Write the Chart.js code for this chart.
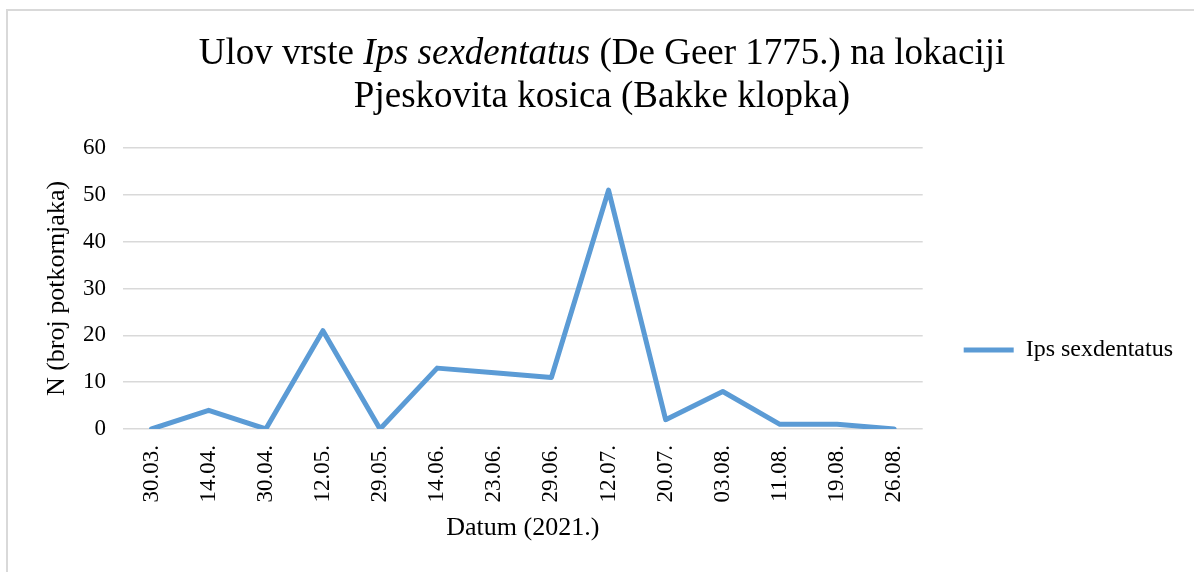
<!DOCTYPE html>
<html>
<head>
<meta charset="utf-8">
<script src="https://cdn.jsdelivr.net/npm/chart.js@4.4.1/dist/chart.umd.min.js"></script>
<style>
  body { margin: 0; background: #fff; overflow: hidden; }
  #wrap { position: relative; width: 1194px; height: 572px; }
  #frame { position: absolute; left: 6px; top: 9px; width: 1400px; height: 800px; border: 2px solid #d9d9d9; }
  canvas { position: absolute; left: 0; top: 0; }
</style>
</head>
<body>
<div id="wrap">
  <div id="frame"></div>
  <canvas id="chart" width="1194" height="572"></canvas>
</div>
<script>
const labels = ["30.03.", "14.04.", "30.04.", "12.05.", "29.05.", "14.06.", "23.06.",
  "29.06.", "12.07.", "20.07.", "03.08.", "11.08.", "19.08.", "26.08."];
const ipsValues = [0, 4, 0, 21, 0, 13, 12, 11, 51, 2, 8, 1, 1, 0];
const seriesName = "Ips sexdentatus";
const titleLine1 = [
  { text: "Ulov vrste ", italic: false },
  { text: "Ips sexdentatus", italic: true },
  { text: " (De Geer 1775.) na lokaciji", italic: false },
];
const titleLine2 = "Pjeskovita kosica (Bakke klopka)";
const yTitle = "N (broj potkornjaka)";
const xTitle = "Datum (2021.)";

const serif = "'Liberation Serif', 'Times New Roman', serif";

// naslov s kurzivom (Chart.js title ne podržava miješane stilove)
const titlePlugin = {
  id: "mixedTitle",
  afterDraw(chart) {
    const ctx = chart.ctx;
    const cx = 602;
    ctx.save();
    ctx.fillStyle = "#000";
    ctx.textBaseline = "alphabetic";
    ctx.textAlign = "left";
    let total = 0;
    titleLine1.forEach((s) => {
      ctx.font = (s.italic ? "italic " : "") + "37px " + serif;
      total += ctx.measureText(s.text).width;
    });
    let x = cx - total / 2;
    titleLine1.forEach((s) => {
      ctx.font = (s.italic ? "italic " : "") + "37px " + serif;
      ctx.fillText(s.text, x, 64);
      x += ctx.measureText(s.text).width;
    });
    ctx.font = "37px " + serif;
    ctx.textAlign = "center";
    ctx.fillText(titleLine2, cx, 107);
    ctx.restore();
  },
};

const ctx = document.getElementById("chart").getContext("2d");
const chart = new Chart(ctx, {
  type: "line",
  data: {
    labels: labels,
    datasets: [
      {
        label: seriesName,
        data: ipsValues,
        borderColor: "#5b9bd5",
        backgroundColor: "#5b9bd5",
        borderWidth: 5,
        borderCapStyle: "round",
        borderJoinStyle: "round",
        pointRadius: 0,
        tension: 0,
        fill: false,
      },
    ],
  },
  options: {
    responsive: false,
    animation: false,
    layout: {
      padding: { top: 148, left: 30, right: 11, bottom: 20 },
    },
    plugins: {
      title: { display: false },
      tooltip: { enabled: false },
      legend: {
        display: true,
        position: "right",
        labels: {
          usePointStyle: true,
          pointStyle: "line",
          pointStyleWidth: 50,
          boxWidth: 50,
          padding: 41,
          color: "#000",
          font: { size: 24, family: serif },
        },
      },
    },
    scales: {
      x: {
        offset: true,
        grid: { display: false, drawTicks: false },
        border: { display: false },
        ticks: {
          color: "#000",
          maxRotation: 90,
          minRotation: 90,
          padding: 16,
          autoSkip: false,
          font: { size: 23, family: serif },
        },
        title: {
          display: true,
          text: xTitle,
          color: "#000",
          padding: { top: 4, bottom: 8 },
          font: { size: 26, family: serif },
        },
        afterFit(scale) {
          scale.height = 123;
        },
      },
      y: {
        min: 0,
        max: 60,
        grid: { color: "#d9d9d9", lineWidth: 1.5, drawTicks: false },
        border: { display: false },
        ticks: {
          stepSize: 10,
          color: "#000",
          padding: 17,
          font: { size: 23, family: serif },
        },
        title: {
          display: true,
          text: yTitle,
          color: "#000",
          padding: { top: 12, bottom: 4 },
          font: { size: 26, family: serif },
        },
        afterFit(scale) {
          scale.width = 93;
        },
      },
    },
  },
  plugins: [titlePlugin],
});
</script>
</body>
</html>
